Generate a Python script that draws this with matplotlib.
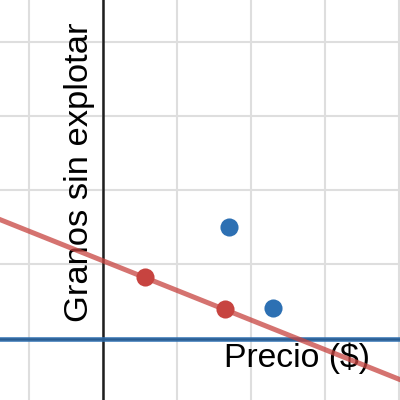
import matplotlib.pyplot as plt
import numpy as np

# data (grid unit = 1)
red_x = [0.57, 1.65]
red_y = [0.83, 0.40]
blue_x = [1.70, 2.30]
blue_y = [1.50, 0.41]

fit_intercept = 1.05
fit_slope = -0.40

x_label = "Precio ($)"
y_label = "Granos sin explotar"

grid_x = [-1, 0, 1, 2, 3, 4]
grid_y = [0, 1, 2, 3, 4]

plt.rcParams['font.family'] = ['Liberation Sans', 'DejaVu Sans']

fig = plt.figure(figsize=(4, 4), dpi=100)
ax = fig.add_axes([0, 0, 1, 1])
ax.set_xlim(-1.392, 4.014)
ax.set_ylim(-0.831, 4.574)
ax.axis('off')

# grid
for gx in grid_x:
    ax.axvline(gx, color='#dedede', lw=1.5, zorder=0)
for gy in grid_y:
    ax.axhline(gy, color='#dedede', lw=1.5, zorder=0)

# axes
ax.axvline(0, color='#1e1e1e', lw=1.8, zorder=1)
ax.axhline(0, color='#1e2a3a', lw=1.8, zorder=1)
ax.axhline(0, color='#2d70b3', lw=3.6, alpha=0.75, zorder=1.5)

# labels (under the fitted line)
ax.text(0.56, 0.0825, x_label, transform=fig.transFigure, fontsize=24.3,
        ha='left', va='baseline', color='black', zorder=1.2)
ax.text(0.22, 0.195, y_label, transform=fig.transFigure, fontsize=24.8,
        rotation=90, rotation_mode='anchor', ha='left', va='baseline',
        color='black', zorder=1.2)

# fitted line
ax.axline((0, fit_intercept), slope=fit_slope, color='#c74440', lw=3.6,
          alpha=0.75, zorder=3)

# points
ax.scatter(red_x, red_y, s=170, color='#c74440', zorder=4, linewidths=0)
ax.scatter(blue_x, blue_y, s=170, color='#2d70b3', zorder=4, linewidths=0)

fig.savefig('out.png', dpi=100)
